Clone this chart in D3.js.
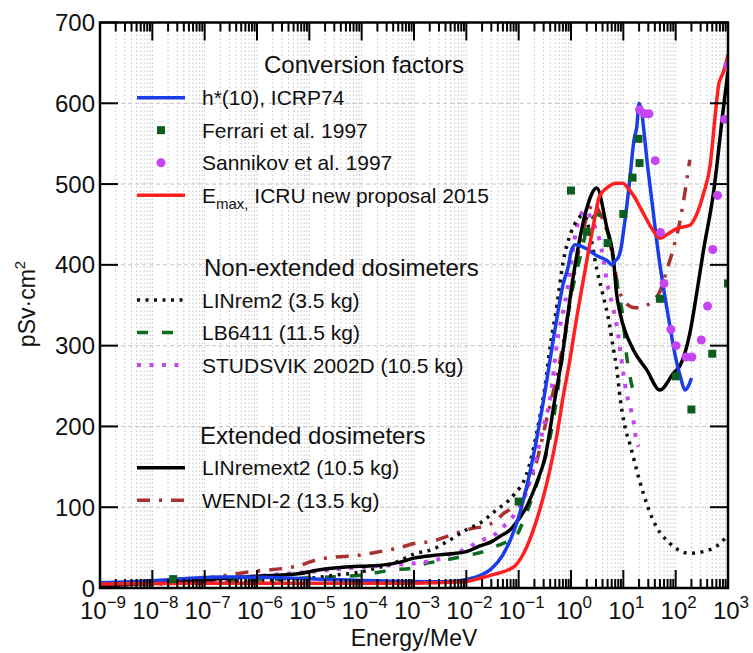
<!DOCTYPE html>
<html><head><meta charset="utf-8">
<script src="https://cdn.jsdelivr.net/npm/d3@7"></script>
<style>
body{margin:0;background:#fff}
svg{display:block}
text{font-family:"Liberation Sans",Arial,Helvetica,sans-serif;fill:#111}
</style>
</head><body>
<svg id="chart" width="753" height="653"></svg>
<script>
// ---------------- data (energy in MeV, value in pSv·cm²) ----------------
const icrpE = [1e-9,1e-8,2.53e-8,1e-7,2e-7,5e-7,1e-6,2e-6,5e-6,1e-5,2e-5,5e-5,1e-4,2e-4,5e-4,1e-3,2e-3,5e-3,1e-2,2e-2,3e-2,5e-2,7e-2,0.1,0.15,0.2,0.3,0.5,0.7,0.9,1,1.2,2,3,4,5,6,7,8,9,10,12,14,15,16,18,20,30,50,75,100,125,150,175,201];
const icrpV = [6.6,9.0,10.6,12.9,13.5,13.6,13.3,12.9,12.0,11.3,10.6,9.9,9.4,8.9,8.3,7.9,7.7,8.0,10.5,16.6,23.7,41.1,60,88,132,170,233,322,375,400,416,425,420,412,408,405,400,405,409,420,440,480,520,540,555,570,600,515,400,330,285,260,245,250,260];

const emaxE = [1e-9,1e-8,1e-7,1e-6,1e-5,1e-4,1e-3,3e-3,1e-2,0.018,0.03,0.08,0.125,0.22,0.34,0.4,0.54,0.7,0.95,1.25,1.6,2,2.7,3.5,4.8,7.4,10,11.5,16,24,35,50,70,105,186,250,340,460,560,660,830,1000];
const emaxV = [5,5.5,6,6,6,6,6,6.5,8,12,16,26,43,84,128,148,190,235,282,330,370,405,450,485,495,501,501,497,485,464,445,433,438,445,449,462,488,525,580,622,640,660];

const ferrariE = [2.5e-8,0.1,1,2,5,10,15,19.5,20.4,50,100,200,500,1000];
const ferrariV = [11,107,492,441,427,463,508,556,526,358,262,221,290,377];

const sannikovE = [20.4,25.7,30.9,40.7,51.3,60,81,102,158,204,309,407,513,631,851,1000];
const sannikovV = [592,587,587,529,440,377,320,300,286,286,307,349,419,486,580,647];

const linrem2E = [1e-9,1e-8,1e-7,1e-6,1e-5,3.2e-5,1e-4,2e-4,5e-4,1e-3,2.3e-3,5e-3,1e-2,2e-2,3.5e-2,0.08,0.14,0.18,0.25,0.32,0.4,0.54,0.7,1,1.3,1.75,2.2,3.1,4,5.1,6.5,7.4,8.7,10.7,13.5,21,37,78,186,340,700,1000];
const linrem2V = [3,5,7,9,12,16,20,25,33,42,48,60,72,82,95,115,140,165,210,250,299,350,402,440,455,462,445,395,365,336,295,274,235,200,177,130,84,55,43,45,55,66];

const lb6411E = [1e-9,1e-8,1e-7,1e-6,1.4e-5,1e-4,3.5e-4,1e-3,1.3e-3,4.3e-3,1e-2,0.021,0.038,0.063,0.091,0.126,0.166,0.22,0.3,0.46,0.63,1,1.5,2,3.2,4.2,5,6.3,7.9,10,11.2,13.2,17];
const lb6411V = [4,6,8,10,13,16,22,25,28,35,40,45,52,58,65,85,105,128,154,208,270,360,410,443,462,455,440,410,370,330,295,264,235];

const studsvikE = [1e-9,1e-8,1e-7,7.4e-7,1e-5,1e-4,5.4e-4,2.7e-3,5e-3,8.7e-3,0.018,0.038,0.044,0.079,0.123,0.19,0.3,0.4,0.54,0.83,1.3,1.86,2.5,3.5,4.2,4.8,6.5,7.9,8.9,10,11.5,13.8,15.5,17.8,19.5];
const studsvikV = [4,6,9,14,20,26,29,35,42,47,58,68,72,89,109,146,200,235,303,365,447,468,455,431,406,381,345,315,290,266,241,222,208,182,175];

const linremext2E = [1e-9,1e-8,8e-8,7e-7,6.6e-6,1.4e-5,1e-4,2.2e-4,5.4e-4,1e-3,3e-3,1e-2,0.018,0.032,0.044,0.069,0.1,0.14,0.22,0.32,0.49,0.66,1.1,2,3.1,4.8,6.5,7.4,8.7,15.5,28,50,91,123,186,270,340,525,810,1000];
const linremext2V = [3,6,10,14,18,22,27,28,32,37,41,45,52,58,64,72,85,100,130,162,233,282,385,470,495,447,406,365,340,295,270,245,266,276,315,377,418,488,592,640];

const wendiE = [1e-9,1e-8,1e-7,7.4e-7,6.6e-6,1.4e-5,1.26e-4,2.2e-4,5.4e-4,1e-3,2.3e-3,4.3e-3,0.0135,0.021,0.038,0.051,0.079,0.123,0.14,0.19,0.34,0.62,1.3,2,2.7,3.5,4.8,6.3,8.1,10,11.5,16.6,22,28,38,50,68,83,120,186];
const wendiV = [4,7,12,20,28,35,42,45,50,55,58,64,74,76,84,92,100,113,122,142,208,282,406,459,476,465,443,410,370,358,352,347,347,350,356,367,394,412,453,530];

const yTicks = [0,100,200,300,400,500,600,700];
const xExponents = [-9,-8,-7,-6,-5,-4,-3,-2,-1,0,1,2,3];

// ---------------- layout ----------------
const svg = d3.select("#chart");
const L = 100, R = 728, T = 22.5, B = 588;
const x = d3.scaleLog().domain([1e-9, 1e3]).range([L, R]);
const y = d3.scaleLinear().domain([0, 700]).range([B, T]);

const zip = (E, V) => E.map((e, i) => [e, V[i]]);

// grid
const minorE = [];
xExponents.forEach(p => { for (let k = 1; k <= 9; k++) { const v = k * Math.pow(10, p); if (v <= 1e3 * 1.0001) minorE.push(v); } });
const grid = svg.append("g");
grid.selectAll("line.vg").data(minorE.filter(v => v > 1e-9 * 1.0001 && v < 1e3 * 0.999)).join("line")
  .attr("x1", d => x(d)).attr("x2", d => x(d)).attr("y1", T).attr("y2", B)
  .attr("stroke", "#c4c4c4").attr("stroke-width", 1).attr("stroke-dasharray", "1.5,2.5");
grid.selectAll("line.hg").data(yTicks.slice(1, -1)).join("line")
  .attr("x1", L).attr("x2", R).attr("y1", d => y(d)).attr("y2", d => y(d))
  .attr("stroke", "#c4c4c4").attr("stroke-width", 1).attr("stroke-dasharray", "4,3");

// clip
svg.append("clipPath").attr("id", "clip").append("rect")
  .attr("x", L).attr("y", T).attr("width", R - L).attr("height", B - T);
const plot = svg.append("g").attr("clip-path", "url(#clip)");

const line = d3.line().x(d => x(d[0])).y(d => y(d[1])).curve(d3.curveMonotoneX);

const series = [
  {E: wendiE, V: wendiV, color: "#a83232", dash: "13,9,3,9", w: 3.5},
  {E: lb6411E, V: lb6411V, color: "#0c6b1e", dash: "11,14", w: 3.5},
  {E: studsvikE, V: studsvikV, color: "#c545f0", dash: "4,8.5", w: 4},
  {E: linrem2E, V: linrem2V, color: "#111", dash: "3,5.5", w: 3.5},
  {E: linremext2E, V: linremext2V, color: "#000", dash: null, w: 3.5},
  {E: icrpE, V: icrpV, color: "#1a3de8", dash: null, w: 3.5},
  {E: emaxE, V: emaxV, color: "#ff1f1f", dash: null, w: 3.5}
];
series.forEach(s => {
  plot.append("path").attr("d", line(zip(s.E, s.V)))
    .attr("fill", "none").attr("stroke", s.color).attr("stroke-width", s.w)
    .attr("stroke-dasharray", s.dash).attr("stroke-linejoin", "round");
});

plot.selectAll("rect.fer").data(zip(ferrariE, ferrariV)).join("rect")
  .attr("x", d => x(d[0]) - 4).attr("y", d => y(d[1]) - 4)
  .attr("width", 8).attr("height", 8).attr("fill", "#0c5e1e");
plot.selectAll("circle.san").data(zip(sannikovE, sannikovV)).join("circle")
  .attr("cx", d => x(d[0])).attr("cy", d => y(d[1])).attr("r", 4.5).attr("fill", "#c545f0");

// axes frame
svg.append("rect").attr("x", L).attr("y", T).attr("width", R - L).attr("height", B - T)
  .attr("fill", "none").attr("stroke", "#000").attr("stroke-width", 2.5);

// x ticks (bottom and top, inward)
const majorE = xExponents.map(p => Math.pow(10, p));
const minorOnly = minorE.filter(v => !majorE.some(m => Math.abs(m - v) / m < 1e-6));
const ticks = svg.append("g").attr("stroke", "#000").attr("stroke-width", 2);
[[B, -1], [T, 1]].forEach(([y0, dir]) => {
  ticks.selectAll(null).data(majorE).join("line")
    .attr("x1", d => x(d)).attr("x2", d => x(d)).attr("y1", y0).attr("y2", y0 + dir * 18);
  ticks.selectAll(null).data(minorOnly).join("line")
    .attr("x1", d => x(d)).attr("x2", d => x(d)).attr("y1", y0).attr("y2", y0 + dir * 9);
});
// y ticks (left and right, inward)
[[L, 1], [R, -1]].forEach(([x0, dir]) => {
  ticks.selectAll(null).data(yTicks).join("line")
    .attr("x1", x0).attr("x2", x0 + dir * 18).attr("y1", d => y(d)).attr("y2", d => y(d));
});

// tick labels
svg.selectAll("text.yl").data(yTicks).join("text")
  .attr("x", 95).attr("y", d => y(d)).attr("dy", "0.36em")
  .attr("text-anchor", "end").attr("font-size", 24).text(d => d);

const xl = svg.selectAll("text.xl").data(xExponents).join("text")
  .attr("x", d => x(Math.pow(10, d)) + 3).attr("y", 619)
  .attr("text-anchor", "middle").attr("font-size", 24);
xl.append("tspan").text("10");
xl.append("tspan").attr("font-size", 17).attr("dy", -11).text(d => (d < 0 ? "\u2212" : "") + Math.abs(d));

// axis titles
svg.append("text").attr("x", 414).attr("y", 646).attr("text-anchor", "middle")
  .attr("font-size", 23).text("Energy/MeV");
const yt = svg.append("text").attr("transform", "translate(35,304) rotate(-90)")
  .attr("text-anchor", "middle").attr("font-size", 23);
yt.append("tspan").text("pSv\u00b7cm");
yt.append("tspan").attr("font-size", 15).attr("dy", -10).text("2");

// legend
const lg = svg.append("g");
const lx1 = 137, lx2 = 185, tx = 202;
const headers = [
  {t: "Conversion factors", x: 264, y: 73},
  {t: "Non-extended dosimeters", x: 204, y: 276},
  {t: "Extended dosimeters", x: 200, y: 444}
];
headers.forEach(h => lg.append("text").attr("x", h.x).attr("y", h.y).attr("font-size", 24).text(h.t));

const entries = [
  {t: "h*(10), ICRP74", y: 97.7, kind: "line", color: "#1a3de8", dash: null, w: 3.5},
  {t: "Ferrari et al. 1997", y: 130.2, kind: "square", color: "#0c5e1e"},
  {t: "Sannikov et al. 1997", y: 162.7, kind: "circle", color: "#c545f0"},
  {t: "EMAX", y: 195.2, kind: "line", color: "#ff1f1f", dash: null, w: 3.5},
  {t: "LINrem2 (3.5 kg)", y: 300, kind: "line", color: "#111", dash: "3,5.5", w: 3.5},
  {t: "LB6411 (11.5 kg)", y: 332.5, kind: "line", color: "#0c6b1e", dash: "11,14", w: 3.5},
  {t: "STUDSVIK 2002D (10.5 kg)", y: 365, kind: "line", color: "#c545f0", dash: "4,8.5", w: 4},
  {t: "LINremext2 (10.5 kg)", y: 467.7, kind: "line", color: "#000", dash: null, w: 3.5},
  {t: "WENDI-2 (13.5 kg)", y: 500.2, kind: "line", color: "#a83232", dash: "13,9,3,9", w: 3.5}
];
entries.forEach(e => {
  if (e.kind === "line") {
    lg.append("line").attr("x1", lx1).attr("x2", lx2).attr("y1", e.y).attr("y2", e.y)
      .attr("stroke", e.color).attr("stroke-width", e.w).attr("stroke-dasharray", e.dash);
  } else if (e.kind === "square") {
    lg.append("rect").attr("x", 157).attr("y", e.y - 4).attr("width", 8).attr("height", 8).attr("fill", e.color);
  } else {
    lg.append("circle").attr("cx", 161).attr("cy", e.y).attr("r", 4.5).attr("fill", e.color);
  }
  const t = lg.append("text").attr("x", tx).attr("y", e.y + 7.6).attr("font-size", 21);
  if (e.t === "EMAX") {
    t.append("tspan").text("E");
    t.append("tspan").attr("font-size", 15).attr("dy", 6).text("max,");
    t.append("tspan").attr("dy", -6).text(" ICRU new proposal 2015");
  } else {
    t.text(e.t);
  }
});
</script>
</body></html>
